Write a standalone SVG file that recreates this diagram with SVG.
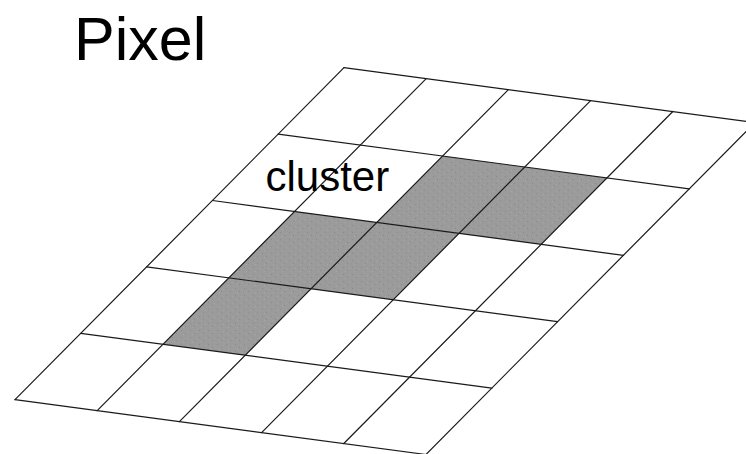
<svg xmlns="http://www.w3.org/2000/svg" width="746" height="454" viewBox="0 0 746 454">
  <style>
    .grid line { stroke: #1a1a1a; stroke-width: 1.2; stroke-linecap: round; }
    .cell { fill: url(#speck); stroke: none; }
    .title { font-family: "Liberation Sans", Arial, sans-serif; fill: #000; }
  </style>
  <defs>
    <pattern id="speck" patternUnits="userSpaceOnUse" width="9" height="7">
      <rect width="9" height="7" fill="#9b9b9b"/>
      <rect x="1" y="1" width="1" height="1" fill="#8a8a8a"/>
      <rect x="5" y="4" width="1" height="1" fill="#8c8c8c"/>
      <rect x="3" y="5" width="1" height="1" fill="#a8a8a8"/>
      <rect x="7" y="2" width="1" height="1" fill="#a6a6a6"/>
    </pattern>
  </defs>
  <rect width="746" height="454" fill="#fff"/>

  <g id="cluster-cells">
    <polygon class="cell" points="442.6,156.0 607,177.9 541.2,244.3 376.8,222.4"/>
    <polygon class="cell" points="294.6,211.5 459,233.4 393.2,299.8 228.8,277.9"/>
    <polygon class="cell" points="228.8,277.9 311,288.8 245.2,355.2 163,344.3"/>
  </g>

  <g id="pixel-grid" class="grid">
    <line x1="344" y1="67.7" x2="755" y2="122.5"/>
    <line x1="278.2" y1="134.1" x2="689.2" y2="188.9"/>
    <line x1="212.4" y1="200.5" x2="623.4" y2="255.3"/>
    <line x1="146.6" y1="266.9" x2="557.6" y2="321.7"/>
    <line x1="80.8" y1="333.3" x2="491.8" y2="388.1"/>
    <line x1="15" y1="399.7" x2="426" y2="454.5"/>
    <line x1="344" y1="67.7" x2="15" y2="399.7"/>
    <line x1="426.2" y1="78.7" x2="97.2" y2="410.7"/>
    <line x1="508.4" y1="89.6" x2="179.4" y2="421.6"/>
    <line x1="590.6" y1="100.6" x2="261.6" y2="432.6"/>
    <line x1="672.8" y1="111.5" x2="343.8" y2="443.5"/>
    <line x1="755" y1="122.5" x2="426" y2="454.5"/>
  </g>

  <g id="title">
    <text class="title" x="74" y="60" font-size="61">Pixel</text>
  </g>
  <g id="cluster-label">
    <text class="title" x="265.5" y="191" font-size="42">cluster</text>
  </g>
</svg>
